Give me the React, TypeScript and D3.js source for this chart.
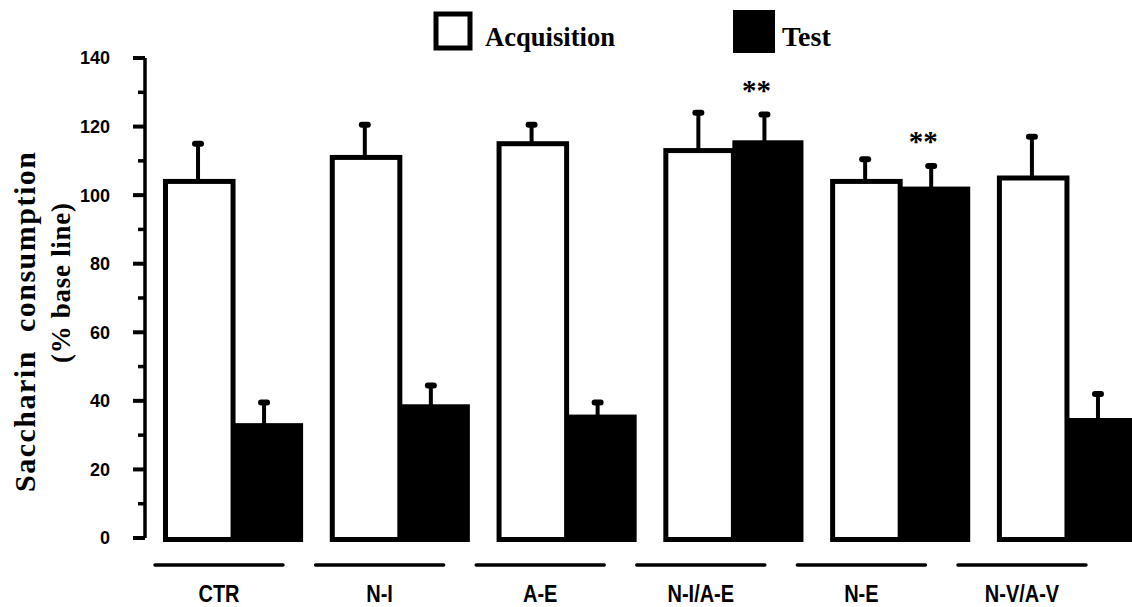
import React from "react";
import * as d3 from "d3";

// groups and series
const groups = ["CTR", "N-I", "A-E", "N-I/A-E", "N-E", "N-V/A-V"];
const series = ["Acquisition", "Test"];
const acquisition = [104, 111, 115, 113, 104, 105];
const acquisitionSem = [11, 9.5, 5.5, 11, 6.5, 12];
const test = [33.5, 39, 36, 116, 102.5, 35];
const testSem = [6, 5.5, 3.5, 7.5, 6, 7];
const significant = ["N-I/A-E", "N-E"];
const majorTicks = [0, 20, 40, 60, 80, 100, 120, 140];
const minorTicks = [10, 30, 50, 70, 90, 110, 130];

const W = 1132;
const H = 607;
const serif = "'Liberation Serif', 'Times New Roman', serif";
const sans = "'Liberation Sans', Arial, sans-serif";

const App = () => {
  const y = d3.scaleLinear().domain([0, 140]).range([538, 58]);
  const x0 = d3.scaleBand().domain(groups).range([163, 1137]).paddingInner(0.16);
  const x1 = d3.scaleBand().domain(series).range([0, x0.bandwidth()]);
  const xLabel = d3.scalePoint().domain(groups).range([219, 1022]);
  const axisX = 145;
  const sw = 5;
  const base = y(0) + 4;

  const errorBar = (cx, v, sem, key) => (
    <g key={key} stroke="#000" strokeLinecap="round">
      <line x1={cx} x2={cx} y1={y(v)} y2={y(v + sem)} strokeWidth={4} />
      <line x1={cx - 3} x2={cx + 3} y1={y(v + sem)} y2={y(v + sem)} strokeWidth={6} />
    </g>
  );

  return (
    <svg
      width={W}
      height={H}
      style={{ position: "absolute", left: 0, top: 0, background: "#fff" }}
    >
      {/* legend */}
      <rect x={436} y={14} width={34} height={34} fill="#fff" stroke="#000" strokeWidth={sw} />
      <text x={485} y={46} fontFamily={serif} fontWeight="bold" fontSize={28} textLength={130} lengthAdjust="spacingAndGlyphs">
        Acquisition
      </text>
      <rect x={733} y={10} width={42} height={43} fill="#000" />
      <text x={782} y={46} fontFamily={serif} fontWeight="bold" fontSize={28}>
        Test
      </text>

      {/* y axis */}
      <line x1={axisX} x2={axisX} y1={y(140)} y2={y(0)} stroke="#000" strokeWidth={3.5} />
      {majorTicks.map((t) => (
        <g key={"M" + t}>
          <line x1={axisX - 12} x2={axisX} y1={y(t)} y2={y(t)} stroke="#000" strokeWidth={4} />
          <text
            x={110}
            y={y(t)}
            dy="0.36em"
            textAnchor="end"
            fontFamily={sans}
            fontWeight="bold"
            fontSize={18}
          >
            {t}
          </text>
        </g>
      ))}
      {minorTicks.map((t) => (
        <line key={"m" + t} x1={axisX - 7} x2={axisX} y1={y(t)} y2={y(t)} stroke="#000" strokeWidth={3.5} />
      ))}

      {/* y axis title */}
      <text
        transform={`translate(35, 322) rotate(-90)`}
        textAnchor="middle"
        fontFamily={serif}
        fontWeight="bold"
        fontSize={30}
        textLength={340}
        lengthAdjust="spacing"
        xmlSpace="preserve"
      >
        Saccharin  consumption
      </text>
      <text
        transform={`translate(70, 283) rotate(-90)`}
        textAnchor="middle"
        fontFamily={serif}
        fontWeight="bold"
        fontSize={27}
        textLength={160}
        lengthAdjust="spacing"
      >
        (% base line)
      </text>

      {/* bars */}
      {groups.map((g, i) => {
        const gx = x0(g);
        const ax = gx + x1("Acquisition");
        const tx = gx + x1("Test");
        const bw = x1.bandwidth();
        return (
          <g key={g}>
            <rect
              x={ax + sw / 2}
              y={y(acquisition[i])}
              width={bw - sw / 2}
              height={base - sw / 2 - y(acquisition[i])}
              fill="#fff"
              stroke="#000"
              strokeWidth={sw}
            />
            <rect
              x={tx - 1}
              y={y(test[i])}
              width={bw + 1}
              height={base - y(test[i])}
              fill="#000"
            />
            {errorBar(ax + bw / 2, acquisition[i], acquisitionSem[i], "ea")}
            {errorBar(tx + bw / 2 - 4, test[i], testSem[i], "et")}
            {significant.includes(g) && (
              <text
                x={tx + bw / 2 - 12}
                y={y(test[i] + testSem[i]) - 28}
                dy={13}
                textAnchor="middle"
                fontFamily={serif}
                fontWeight="bold"
                fontSize={29}
              >
                **
              </text>
            )}
          </g>
        );
      })}

      {/* category labels with underlines */}
      {groups.map((g) => (
        <g key={"l" + g}>
          <line
            x1={xLabel(g) - 64}
            x2={xLabel(g) + 64}
            y1={565}
            y2={565}
            stroke="#000"
            strokeWidth={3.5}
            strokeLinecap="round"
          />
          <text
            transform={`translate(${xLabel(g)}, 602) scale(1, 1.2)`}
            textAnchor="middle"
            fontFamily={sans}
            fontWeight="bold"
            fontSize={20}
          >
            {g}
          </text>
        </g>
      ))}
    </svg>
  );
};

export default App;
